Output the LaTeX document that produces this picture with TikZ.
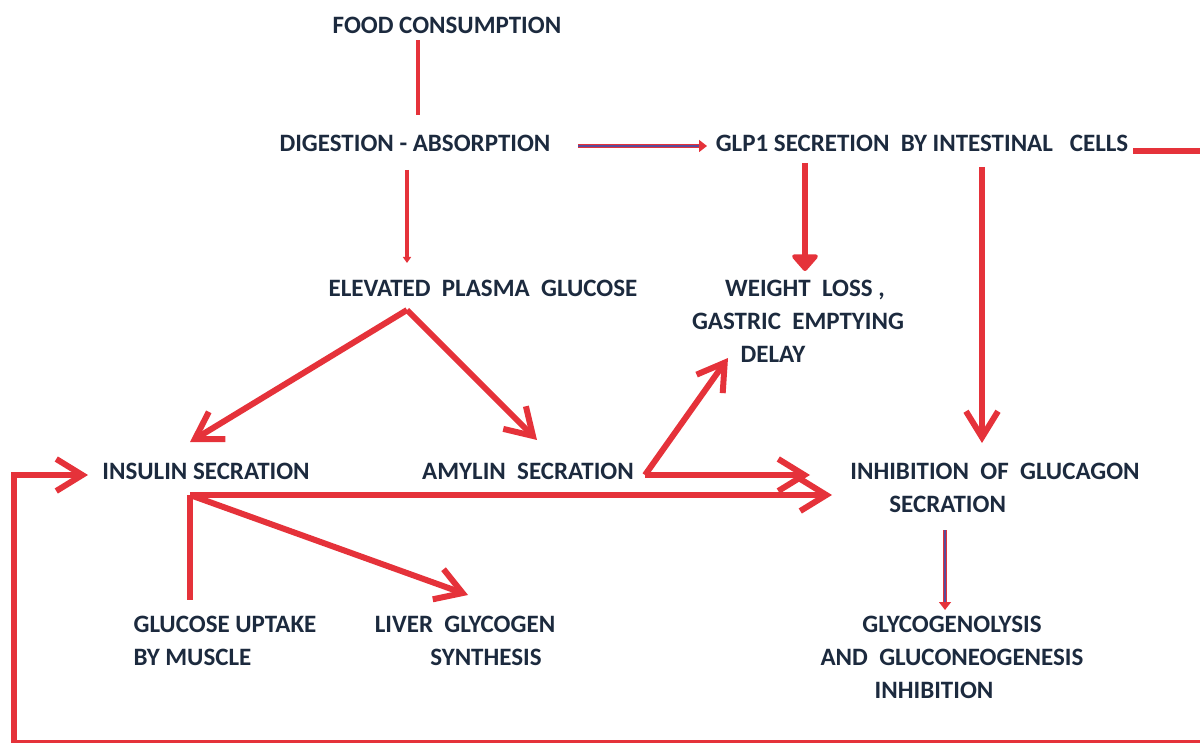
\documentclass[tikz,border=0pt]{standalone}
\usepackage{fontspec}
\setmainfont{Carlito}
\usetikzlibrary{arrows.meta,calc}
\definecolor{ArrowRed}{HTML}{E5323A}
\definecolor{LinkBlue}{HTML}{5A4C9A}
\definecolor{InkNavy}{HTML}{1C2A3E}

\begin{document}
\begin{tikzpicture}[x=0.5pt,y=-0.5pt,
  lbl/.style={inner sep=0pt,text=InkNavy,font=\fontsize{12.5}{16.5}\selectfont\bfseries,align=center},
  bigarrow/.style={draw=ArrowRed,line width=3pt,-{Straight Barb[length=13pt,width=16pt]}},
  plainline/.style={draw=ArrowRed,line width=2pt},
  thinarrow/.style={draw=ArrowRed,double=LinkBlue,double distance=0.9pt,line width=0.75pt,-{Triangle[length=4pt,width=6pt]}}]
  \useasboundingbox (0,0) rectangle (1200,743);
  % labels
  \node[lbl] (food) at (447,25) {FOOD CONSUMPTION};
  \node[lbl] (digest) at (415,143) {DIGESTION - ABSORPTION};
  \node[lbl] (glp) at (922,143) {GLP1 SECRETION~ BY INTESTINAL~~ CELLS};
  \node[lbl] (elev) at (483,288) {ELEVATED~ PLASMA~ GLUCOSE};
  \node[lbl] (weight) at (798,321) {\hspace*{7pt}WEIGHT~ LOSS ,\\GASTRIC~ EMPTYING\\DELAY\hspace*{25pt}};
  \node[lbl] (insulin) at (206,471) {INSULIN SECRATION};
  \node[lbl] (amylin) at (528,471) {AMYLIN~ SECRATION};
  \node[lbl,align=left] (inhib) at (995,488) {INHIBITION~ OF~ GLUCAGON\\\hspace*{19.5pt}SECRATION};
  \node[lbl,align=left] (uptake) at (225,641) {GLUCOSE UPTAKE\\BY MUSCLE};
  \node[lbl] (liver) at (465,641) {LIVER~ GLYCOGEN\\\hspace*{21pt}SYNTHESIS};
  \node[lbl] (glyco) at (952,657) {GLYCOGENOLYSIS\\AND~ GLUCONEOGENESIS\\INHIBITION\hspace*{18pt}};
  % connectors
  \draw[plainline] ($(food)+(-29,15)$) -- ($(digest)+(3,-28)$);
  \draw[thinarrow] ($(digest)+(163,3)$) -- ($(glp)+(-215,3)$);
  \draw[plainline,-{Triangle[length=3pt,width=4pt]}] ($(digest)+(-8,27)$) -- ($(elev)+(-76,-25)$);
  \draw[draw=ArrowRed,line width=3pt,-{Triangle[length=9pt,width=15pt,round]}] ($(glp)+(-117,20)$) -- ($(weight)+(7,-50)$);
  \draw[bigarrow] ($(glp)+(60,24)$) -- ($(inhib)+(-13,-45)$);
  \draw[bigarrow] ($(glp)+(211,8)$) -- ++(82,0) -- ++(0,592) -- ++(-1201,0) -- ++(0,-268) -- ($(insulin)+(-118,4)$);
  \draw[bigarrow] ($(elev)+(-76,22)$) -- ($(insulin)+(-16,-29)$);
  \draw[bigarrow] ($(elev)+(-76,22)$) -- ($(amylin)+(9,-31)$);
  \draw[bigarrow] ($(amylin)+(117,4)$) -- ($(weight)+(-70,37)$);
  \draw[bigarrow] ($(amylin)+(117,4)$) -- ($(inhib)+(-185,-13)$);
  \draw[bigarrow] ($(insulin)+(-16,24)$) -- ($(inhib)+(-163,7)$);
  \draw[draw=ArrowRed,line width=3pt] ($(insulin)+(-16,24)$) -- ($(uptake)+(-35,-41)$);
  \draw[bigarrow] ($(insulin)+(-16,24)$) -- ($(liver)+(3,-46)$);
  \draw[thinarrow] ($(inhib)+(-50,42)$) -- ($(glyco)+(-7,-47)$);
\end{tikzpicture}
\end{document}
